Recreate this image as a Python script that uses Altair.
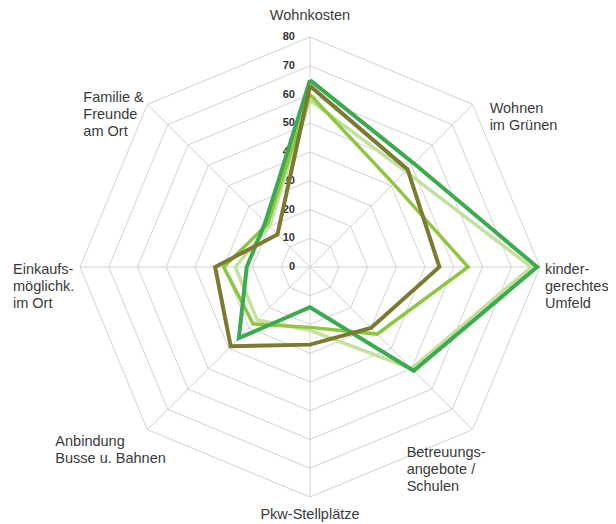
import altair as alt
import pandas as pd

categories = [
    "Wohnkosten",
    "Wohnen\nim Grünen",
    "kinder-\ngerechtes\nUmfeld",
    "Betreuungs-\nangebote /\nSchulen",
    "Pkw-Stellplätze",
    "Anbindung\nBusse u. Bahnen",
    "Einkaufs-\nmöglichk.\nim Ort",
    "Familie &\nFreunde\nam Ort",
]
series_names = ["Reihe 1", "Reihe 2", "Reihe 3", "Reihe 4"]
reihe1 = [58, 47, 77, 50, 22, 26, 26, 20]   # pale green
reihe2 = [60, 41, 55, 33, 21, 28, 30, 21]   # medium green
reihe3 = [65, 51, 79, 51, 14, 35, 22, 22]   # dark green
reihe4 = [63, 48, 45, 30, 27, 39, 33, 16]   # olive
ticks = [0, 10, 20, 30, 40, 50, 60, 70, 80]

colors = ["#c4e09e", "#8dc641", "#3daa50", "#7b7a30"]
widths = [3.5, 3.5, 4, 4]

n = len(categories)
rmax = max(ticks)

rows = []
for name, vals in zip(series_names, [reihe1, reihe2, reihe3, reihe4]):
    for i in range(n + 1):
        rows.append({"series": name, "idx": i, "value": vals[i % n]})
series_df = pd.DataFrame(rows)

grid_rows = []
for t in ticks[1:]:
    for i in range(n + 1):
        grid_rows.append({"level": t, "idx": i})
grid_df = pd.DataFrame(grid_rows)

spoke_df = pd.DataFrame({"idx": list(range(n)), "cat": categories})
tick_df = pd.DataFrame({"t": ticks, "label": [str(t) for t in ticks]})

xs = alt.Scale(domain=[-rmax, rmax], nice=False, zero=False)
ys = alt.Scale(domain=[-rmax, rmax], nice=False, zero=False)
ang = f"datum.idx * PI * 2 / {n}"

grid = alt.Chart(grid_df).transform_calculate(
    px=f"datum.level * sin({ang})", py=f"datum.level * cos({ang})"
).mark_line(color="#d2d2d2", strokeWidth=1).encode(
    x=alt.X("px:Q", scale=xs, axis=None),
    y=alt.Y("py:Q", scale=ys, axis=None),
    detail="level:N",
    order="idx:Q",
)

spokes = alt.Chart(spoke_df).transform_calculate(
    x0="0", y0="0",
    px=f"{rmax} * sin({ang})", py=f"{rmax} * cos({ang})"
).mark_rule(color="#d2d2d2", strokeWidth=1).encode(
    x=alt.X("x0:Q", scale=xs, axis=None),
    y=alt.Y("y0:Q", scale=ys, axis=None),
    x2="px:Q",
    y2="py:Q",
)

tick_text = alt.Chart(tick_df).transform_calculate(x0="0").mark_text(
    align="right", baseline="middle", dx=-15, fontSize=11, fontWeight="bold",
    font="Liberation Sans", color="#333333"
).encode(
    x=alt.X("x0:Q", scale=xs, axis=None),
    y=alt.Y("t:Q", scale=ys, axis=None),
    text="label:N",
)

layers = [grid, spokes, tick_text]

for name, col, w in zip(series_names, colors, widths):
    layers.append(
        alt.Chart(series_df).transform_filter(alt.datum.series == name).transform_calculate(
            px=f"datum.value * sin({ang})", py=f"datum.value * cos({ang})"
        ).mark_line(color=col, strokeWidth=w, strokeJoin="miter").encode(
            x=alt.X("px:Q", scale=xs, axis=None),
            y=alt.Y("py:Q", scale=ys, axis=None),
            order="idx:Q",
        )
    )

# category labels: (align, dx, dy) per axis
label_style = [
    ("center", 0, -21),
    ("left", 17, 5),
    ("left", 5, 3),
    ("left", -66, 23),
    ("center", 0, 18),
    ("left", -92, 12),
    ("left", -67, 3),
    ("left", -64, -6),
]
for i, (al, dx, dy) in enumerate(label_style):
    layers.append(
        alt.Chart(spoke_df).transform_filter(alt.datum.idx == i).transform_calculate(
            px=f"{rmax} * sin({ang})", py=f"{rmax} * cos({ang})"
        ).mark_text(
            align=al, baseline="middle", dx=dx, dy=dy, fontSize=14.5,
            font="Liberation Sans", color="#3a3a3a", lineBreak="\n", lineHeight=17
        ).encode(
            x=alt.X("px:Q", scale=xs, axis=None),
            y=alt.Y("py:Q", scale=ys, axis=None),
            text="cat:N",
        )
    )

chart = alt.layer(*layers).properties(
    width=460, height=460,
    autosize=alt.AutoSizeParams(type="none"),
    padding={"left": 72, "top": 29, "right": 68, "bottom": 25},
).configure_view(stroke=None)

chart.save("out.html", embed_options={"renderer": "svg", "actions": False})
